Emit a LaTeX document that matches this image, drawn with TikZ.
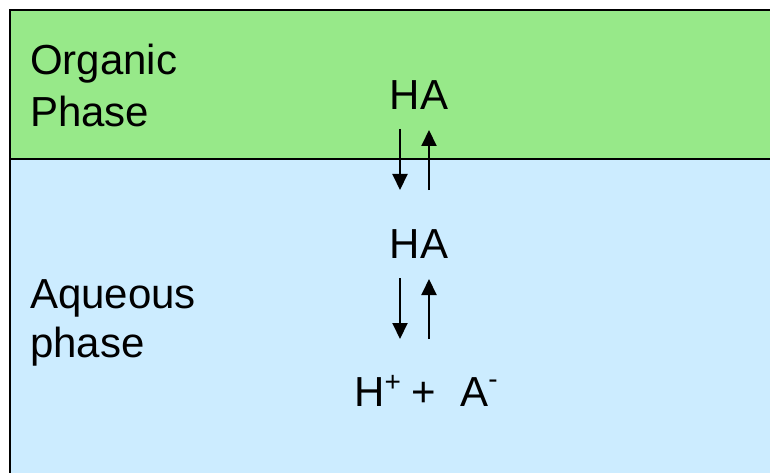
\documentclass[tikz,border=0pt]{standalone}
\usepackage{fontspec}
\setmainfont{Liberation Sans}
\usetikzlibrary{arrows.meta}
\definecolor{orggreen}{RGB}{151,233,137}
\definecolor{aqblue}{RGB}{204,236,255}
\newcommand{\supsym}[2]{\raisebox{#1}{\fontsize{28}{28}\selectfont #2}}
\tikzset{
  lbl/.style={inner sep=0pt, align=left},
  chem/.style={inner sep=0pt, font=\fontsize{42}{48}\selectfont},
  eqarrow/.style={line width=2pt, -{Triangle[length=16pt,width=15pt]}},
  border/.style={line width=2pt, draw=black}
}
\begin{document}
\begin{tikzpicture}[x=1pt,y=-1pt]
\useasboundingbox (0,0) rectangle (770,473);
\clip (0,0) rectangle (770,473);
\fill[orggreen] (10,10) rectangle (790,159);
\fill[aqblue] (10,159) rectangle (790,490);
\draw[border] (10,490) -- (10,10) -- (790,10);
\draw[border] (10,159) -- (790,159);
\node[lbl, font=\fontsize{42}{52}\selectfont, anchor=base west] (org) at (30,127) {Organic\\Phase};
\node[lbl, font=\fontsize{42}{49}\selectfont, anchor=base west] (aq) at (30,357) {Aqueous\\phase};
\node[chem, anchor=base] (ha1) at (419,110) {HA};
\node[chem, anchor=base] (ha2) at (419,258) {HA};
\node[chem, anchor=base west] (ions) at (354,406) {H\supsym{15pt}{+}\hspace{11pt}+\hspace{24pt}A\supsym{18pt}{-}};
\coordinate (d1s) at (400,129);
\coordinate (d1e) at (400,190);
\coordinate (u1s) at (429,190);
\coordinate (u1e) at (429,130);
\coordinate (d2s) at (400,278);
\coordinate (d2e) at (400,339);
\coordinate (u2s) at (429,339);
\coordinate (u2e) at (429,279);
\draw[eqarrow] (d1s) -- (d1e);
\draw[eqarrow] (u1s) -- (u1e);
\draw[eqarrow] (d2s) -- (d2e);
\draw[eqarrow] (u2s) -- (u2e);
\end{tikzpicture}
\end{document}
